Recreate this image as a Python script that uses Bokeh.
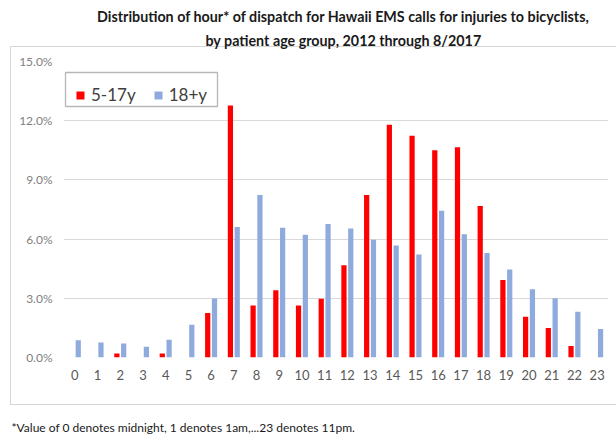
from bokeh.plotting import figure
from bokeh.layouts import column
from bokeh.models import (FactorRange, Range1d, Legend, LegendItem, Label, BoxAnnotation,
                          FixedTicker, PrintfTickFormatter, Title)
from bokeh.transform import dodge
from bokeh.embed import file_html
from bokeh.resources import INLINE

hours = [str(h) for h in range(24)]
youth = [0, 0, 0.2, 0, 0.2, 0, 2.26, 12.77, 2.63, 3.41, 2.63, 2.98, 4.68, 8.24,
         11.8, 11.24, 10.5, 10.66, 7.68, 3.93, 2.07, 1.49, 0.58, 0]
adult = [0.88, 0.76, 0.71, 0.54, 0.9, 1.66, 2.99, 6.61, 8.24, 6.57, 6.22, 6.76,
         6.54, 5.97, 5.68, 5.22, 7.44, 6.25, 5.29, 4.46, 3.46, 3.0, 2.32, 1.44]
y_ticks = [0, 3, 6, 9, 12, 15]
series_names = ["5-17y", "18+y"]
title_lines = ["Distribution of hour* of dispatch for Hawaii EMS calls for injuries to bicyclists,",
               "by patient age group, 2012 through 8/2017"]
footnote = "*Value of 0 denotes midnight, 1 denotes 1am,...23 denotes 11pm."

FONT = "Lato"
RED = "#FF0000"
BLUE = "#8FAADC"
W = 616


def blank(height):
    f = figure(width=W, height=height, x_range=Range1d(0, 1), y_range=Range1d(0, 1),
               output_backend="svg", toolbar_location=None,
               x_axis_location=None, y_axis_location=None,
               min_border_left=63, min_border_right=8, min_border_top=0, min_border_bottom=0)
    f.grid.visible = False
    f.outline_line_color = None
    f.background_fill_color = None
    f.border_fill_color = None
    return f


# ---- title ----
t = blank(50)
for i, line in enumerate(title_lines):
    t.add_layout(Label(x=280, y=34 - 24 * i, x_units="screen", y_units="screen",
                       text=line, text_align="center", text_baseline="alphabetic",
                       text_font=FONT, text_font_style="bold",
                       text_font_size="14.3px", text_color="#1a1a1a"))

# ---- main chart ----
p = figure(width=W, height=356, x_range=FactorRange(factors=hours), y_range=(0, 15),
           output_backend="svg", toolbar_location=None,
           min_border_left=63, min_border_right=8, min_border_top=11, min_border_bottom=49)
p.outline_line_color = None
p.background_fill_color = None
p.border_fill_color = None

src = dict(hour=hours, youth=youth, adult=adult)
r1 = p.vbar(x=dodge("hour", -0.15, range=p.x_range), top="youth", width=0.23, source=src,
            fill_color=RED, line_color=None)
r2 = p.vbar(x=dodge("hour", 0.15, range=p.x_range), top="adult", width=0.23, source=src,
            fill_color=BLUE, line_color=None)

p.xaxis.axis_line_color = None
p.xaxis.major_tick_line_color = None
p.xaxis.minor_tick_line_color = None
p.xaxis.major_tick_out = 0
p.xaxis.major_tick_in = 0
p.xaxis.major_label_standoff = 12
p.xaxis.major_label_text_font = FONT
p.xaxis.major_label_text_font_size = "13px"
p.xaxis.major_label_text_color = "#595959"

p.yaxis.axis_line_color = None
p.yaxis.major_tick_line_color = None
p.yaxis.minor_tick_line_color = None
p.yaxis.major_tick_out = 0
p.yaxis.major_tick_in = 0
p.yaxis.minor_tick_out = 0
p.yaxis.ticker = FixedTicker(ticks=y_ticks)
p.yaxis.formatter = PrintfTickFormatter(format="%.1f%%")
p.yaxis.major_label_standoff = 11
p.yaxis.major_label_text_font = FONT
p.yaxis.major_label_text_font_size = "12px"
p.yaxis.major_label_text_color = "#7F7F7F"

p.xgrid.grid_line_color = None
p.ygrid.ticker = FixedTicker(ticks=y_ticks)
p.ygrid.grid_line_color = "#D9D9D9"
p.ygrid.grid_line_width = 1

# legend border box
p.add_layout(BoxAnnotation(left=2, right=154, top=285, bottom=251,
                           left_units="screen", right_units="screen",
                           top_units="screen", bottom_units="screen",
                           fill_color="white", fill_alpha=1, line_color="#111111", line_width=1.3))

legend = Legend(items=[LegendItem(label=series_names[0], renderers=[r1]),
                       LegendItem(label=series_names[1], renderers=[r2])],
                orientation="horizontal", location=(12, 252),
                border_line_color=None, background_fill_alpha=0,
                glyph_width=10, glyph_height=10, label_standoff=6, spacing=17,
                padding=6, label_text_font=FONT, label_text_font_size="17px",
                label_text_color="#404040")
p.add_layout(legend)

# ---- footnote ----
fn = blank(28)
fn.add_layout(Title(text=footnote, align="left", offset=-52, standoff=0,
                    vertical_align="bottom",
                    text_font=FONT, text_font_size="12px", text_font_style="normal",
                    text_color="#1a1a1a"), "below")

line = "linear-gradient(#D6D6D6, #D6D6D6)"
root = column(t, p, fn, spacing=0,
              styles={"background-color": "white",
                      "background-image": ", ".join([line] * 3),
                      "background-position": "10px 46px, 10px 46px, 10px 404px",
                      "background-size": "1px 359px, 620px 1px, 620px 1px",
                      "background-repeat": "no-repeat"})

open("out.html", "w").write(file_html(root, INLINE))
